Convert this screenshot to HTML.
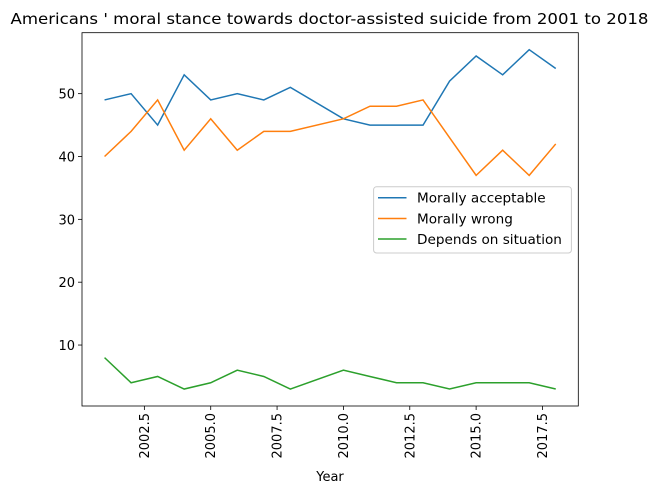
<!DOCTYPE html>
<html><head><meta charset="utf-8"><style>
body{margin:0;background:#fff}
text{font-family:"DejaVu Sans","Liberation Sans",sans-serif;fill:#000}
</style></head><body>
<svg id="chart" width="659" height="494" viewBox="0 0 659 494">
<text x="329.5" y="24" text-anchor="middle" font-size="15.5" textLength="638" lengthAdjust="spacingAndGlyphs">Americans ' moral stance towards doctor-assisted suicide from 2001 to 2018</text>
<g id="axes"></g>
<g id="lines"></g>
<g id="legend">
<rect x="373.6" y="186.7" width="197.8" height="66.3" rx="3" fill="#fff" fill-opacity="0.8" stroke="#ccc"/>
<line x1="378" y1="197.7" x2="406.5" y2="197.7" stroke="#1f77b4" stroke-width="1.5"/>
<text x="417" y="202.5" font-size="13.6">Morally acceptable</text>
<line x1="378" y1="218.5" x2="406.5" y2="218.5" stroke="#ff7f0e" stroke-width="1.5"/>
<text x="417" y="223.3" font-size="13.6">Morally wrong</text>
<line x1="378" y1="239" x2="406.5" y2="239" stroke="#2ca02c" stroke-width="1.5"/>
<text x="417" y="243.8" font-size="13.6">Depends on situation</text>
</g>
<text x="330" y="481" text-anchor="middle" font-size="13">Year</text>
</svg>
<script>
const years=[2001,2002,2003,2004,2005,2006,2007,2008,2010,2011,2012,2013,2014,2015,2016,2017,2018];
const acceptable=[49,50,45,53,49,50,49,51,46,45,45,45,52,56,53,57,54];
const wrong=[40,44,49,41,46,41,44,44,46,48,48,49,43,37,41,37,42];
const depends=[8,4,5,3,4,6,5,3,6,5,4,4,3,4,4,4,3];
const xTicks=[2002.5,2005.0,2007.5,2010.0,2012.5,2015.0,2017.5];
const yTicks=[10,20,30,40,50];
const L=82,R=578.3,T=32.7,B=406,x0=2000.15,x1=2018.85,y0=0.3,y1=59.7;
const sx=v=>L+(v-x0)/(x1-x0)*(R-L);
const sy=v=>B-(v-y0)/(y1-y0)*(B-T);
const NS="http://www.w3.org/2000/svg";
const ax=document.getElementById('axes'),ln=document.getElementById('lines');
function mk(t,a,p){const e=document.createElementNS(NS,t);for(const k in a)e.setAttribute(k,a[k]);p.appendChild(e);return e;}
const frame=mk('rect',{x:L,y:T,width:R-L,height:B-T,fill:'none',stroke:'#000','stroke-width':0.8},ax);


xTicks.forEach(v=>{
  const t=mk('line',{x1:sx(v),x2:sx(v),y1:B,y2:B+4,stroke:'#000','stroke-width':0.8},ax);
  
  
  const tx=mk('text',{x:0,y:0,'font-size':13,'text-anchor':'end',transform:`translate(${sx(v)+4.5},${B+7}) rotate(-90)`},ax);
  tx.textContent=v.toFixed(1);
  
  
});
yTicks.forEach(v=>{
  const t=mk('line',{x1:L-4,x2:L,y1:sy(v),y2:sy(v),stroke:'#000','stroke-width':0.8},ax);
  
  
  const tx=mk('text',{x:L-7,y:sy(v)+5,'font-size':13,'text-anchor':'end'},ax);
  tx.textContent=v;
  
  
});
[[acceptable,'#1f77b4','line-morally-acceptable'],[wrong,'#ff7f0e','line-morally-wrong'],[depends,'#2ca02c','line-depends-on-situation']].forEach(([d,c,n])=>{
  const p=mk('polyline',{points:d.map((v,i)=>sx(years[i])+','+sy(v)).join(' '),fill:'none',stroke:c,'stroke-width':1.5},ln);
  
  
});
</script>
</body></html>
